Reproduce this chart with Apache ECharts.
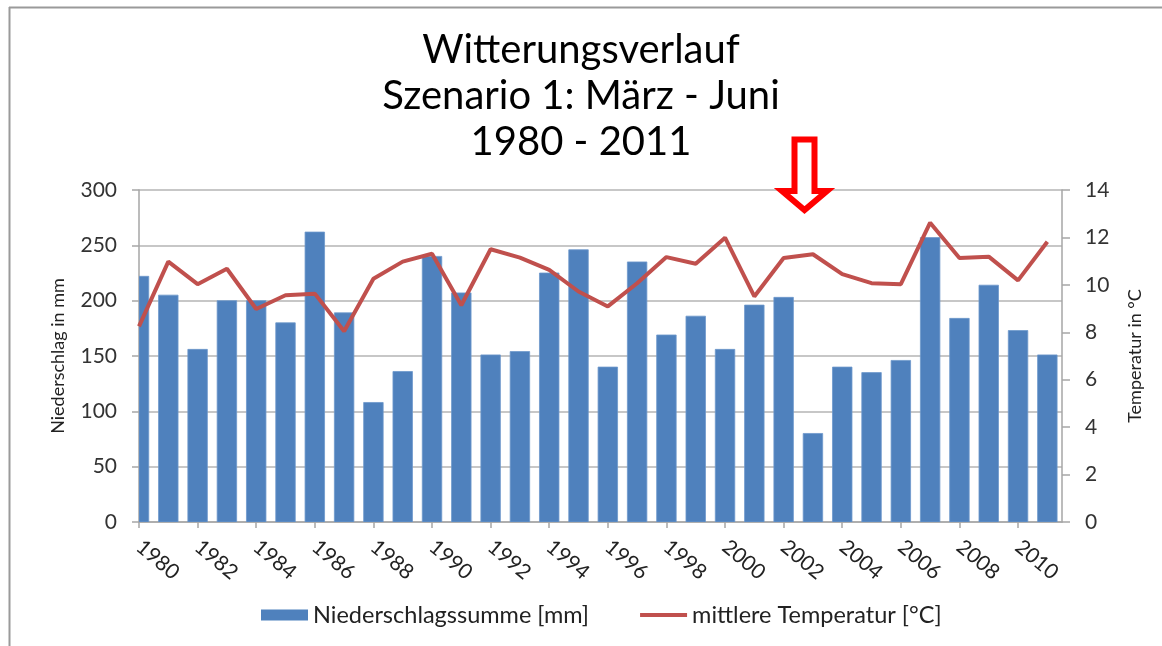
<!DOCTYPE html>
<html>
<head>
<meta charset="utf-8">
<script src="https://cdn.jsdelivr.net/npm/echarts@6/dist/echarts.min.js"></script>
<style>
html,body{margin:0;padding:0;background:#fff;}
#chart{width:1162px;height:646px;}
</style>
</head>
<body>
<div id="chart"></div>
<script>
const years = [1980,1981,1982,1983,1984,1985,1986,1987,1988,1989,1990,1991,1992,1993,1994,1995,1996,1997,1998,1999,2000,2001,2002,2003,2004,2005,2006,2007,2008,2009,2010,2011];
const niederschlag = [222,205,156,200,200,180,262,189,108,136,240,207,151,154,225,246,140,235,169,186,156,196,203,80,140,135,146,257,184,214,173,151];
const temperatur = [8.25,10.98,10.03,10.68,8.98,9.56,9.63,8.04,10.26,10.98,11.31,9.14,11.5,11.15,10.63,9.72,9.09,10.07,11.17,10.89,11.99,9.51,11.13,11.29,10.45,10.07,10.03,12.62,11.13,11.19,10.19,11.82];
const xTickYears = [1980,1982,1984,1986,1988,1990,1992,1994,1996,1998,2000,2002,2004,2006,2008,2010];
const leftTicks = [0,50,100,150,200,250,300];
const rightTicks = [0,2,4,6,8,10,12,14];
const titleLines = ['Witterungsverlauf','Szenario 1: März - Juni','1980 - 2011'];
const seriesNames = ['Niederschlagssumme [mm]','mittlere Temperatur [°C]'];

const FONT = 'Lato, "Open Sans", sans-serif';
const BAR_W = 19.5;
const chart = echarts.init(document.getElementById('chart'), null, {renderer:'canvas'});

const barData = years.map((y,i)=>[y, niederschlag[i]]);
const lineData = years.map((y,i)=>[y, temperatur[i]]);

function renderBar(params, api){
  const x = api.value(0), v = api.value(1);
  const top = api.coord([x, v]);
  const base = api.coord([x, 0]);
  const rect = echarts.graphic.clipRectByRect(
    {x: top[0] - BAR_W/2, y: top[1], width: BAR_W, height: base[1] - top[1]},
    {x: params.coordSys.x, y: params.coordSys.y, width: params.coordSys.width, height: params.coordSys.height}
  );
  if(!rect) return null;
  return {type:'rect', shape:rect, style:{fill:'#4f81bd', stroke:'#6d98cc', lineWidth:0.8}};
}

chart.setOption({
  animation:false,
  backgroundColor:'#fff',
  title:{
    text: titleLines.join('\n'),
    left:'center', top:22,
    textStyle:{fontFamily:FONT, fontSize:40, fontWeight:'normal', color:'#000', lineHeight:46}
  },
  grid:{left:139, right:100, top:190, height:332},
  legend:{
    bottom:14, left:256,
    itemWidth:47, itemHeight:11, itemGap:51,
    textStyle:{fontFamily:FONT, fontSize:23.5, color:'#222'},
    data:[
      {name:seriesNames[0], icon:'rect', itemStyle:{color:'#4f81bd'}},
      {name:seriesNames[1], icon:'path://M0,0 L48,0 L48,4 L0,4 Z', itemStyle:{color:'#c0504d'}}
    ]
  },
  xAxis:{
    type:'value', min:1980, max:2011.5,
    axisLine:{show:true, lineStyle:{color:'#a6a6a6', width:1.5}},
    axisTick:{show:true, length:6, lineStyle:{color:'#a6a6a6', width:1.5}, customValues:xTickYears},
    axisLabel:{rotate:-40, margin:22, fontFamily:FONT, fontSize:21, color:'#222', customValues:xTickYears, formatter:v=>String(v)},
    splitLine:{show:false}
  },
  yAxis:[
    {
      type:'value', min:0, max:300, interval:50, position:'left',
      name:'Niederschlag in mm', nameLocation:'middle', nameRotate:90, nameGap:72,
      nameTextStyle:{fontFamily:FONT, fontSize:18, color:'#222'},
      axisLine:{show:true, lineStyle:{color:'#a6a6a6', width:1.5}},
      axisTick:{show:true, length:7, lineStyle:{color:'#a6a6a6', width:1.5}},
      axisLabel:{margin:22, fontFamily:FONT, fontSize:21, color:'#333'},
      splitLine:{show:true, lineStyle:{color:'#b5b5b5', width:1.5}}
    },
    {
      type:'value', min:0, max:14, interval:2, position:'right',
      name:'Temperatur in °C', nameLocation:'middle', nameRotate:90, nameGap:64,
      nameTextStyle:{fontFamily:FONT, fontSize:18, color:'#222'},
      axisLine:{show:true, lineStyle:{color:'#a6a6a6', width:1.5}},
      axisTick:{show:true, length:8, lineStyle:{color:'#a6a6a6', width:1.5}},
      axisLabel:{margin:23, fontFamily:FONT, fontSize:21, color:'#333'},
      splitLine:{show:false}
    }
  ],
  series:[
    {
      name:seriesNames[0], type:'custom', yAxisIndex:0, data:barData,
      renderItem:renderBar, clip:true,
      encode:{x:0, y:1},
      itemStyle:{color:'#4f81bd'}
    },
    {
      name:seriesNames[1], type:'line', yAxisIndex:1, data:lineData,
      symbol:'none', clip:false, z:5,
      lineStyle:{color:'#c0504d', width:4}, itemStyle:{color:'#c0504d'}
    }
  ],
  graphic:[
    {type:'line', shape:{x1:9, y1:7.5, x2:1162, y2:7.5}, style:{stroke:'#9a9a9a', lineWidth:2}, silent:true},
    {type:'line', shape:{x1:9.5, y1:7, x2:9.5, y2:646}, style:{stroke:'#9a9a9a', lineWidth:2}, silent:true},
    {type:'polygon', shape:{points:[[794.5,139.5],[814.5,139.5],[814.5,191],[827,191],[804.5,210],[782,191],[794.5,191]]},
     style:{fill:'#fff', stroke:'#ff0000', lineWidth:6, lineJoin:'miter'}, silent:true, z:100}
  ]
});
</script>
</body>
</html>
